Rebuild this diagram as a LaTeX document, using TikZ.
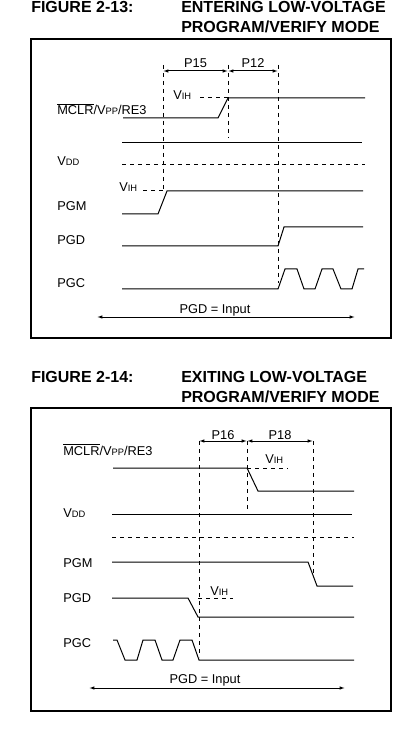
\documentclass[tikz,border=0pt]{standalone}
\usepackage{fontspec}
\setmainfont{Liberation Sans}
\usetikzlibrary{arrows.meta}

\tikzset{
  wave/.style={line width=0.75pt},
  guide/.style={line width=0.75pt, dash pattern=on 3pt off 3pt},
  span/.style={line width=0.75pt, {Latex[length=4pt,width=2.6pt]}-{Latex[length=4pt,width=2.6pt]}},
  sig/.style={anchor=base west, inner sep=0pt, font=\fontsize{9.6}{11}\selectfont},
  ttl/.style={anchor=base west, inner sep=0pt, align=left, font=\bfseries\fontsize{12}{15}\selectfont},
}
\newcommand{\lo}[1]{{\fontsize{7}{8}\selectfont #1}}

\begin{document}
\begin{tikzpicture}[x=0.75pt,y=-0.75pt]
\useasboundingbox (0,0) rectangle (412,737);
\node[ttl] (fig13) at (31,13) {FIGURE 2-13:};
\node[ttl] (ttl13) at (181,33) {ENTERING LOW-VOLTAGE\\PROGRAM/VERIFY MODE};
\draw[line width=0.9pt] (31,39) rectangle (391,338);
\coordinate (A) at (163,65);
\coordinate (B) at (228,65);
\coordinate (C) at (278,65);
\coordinate (A1) at (163,71);
\coordinate (B1) at (228,71);
\coordinate (C1) at (278,71);
\draw[guide] (A) -- (163,190);
\draw[guide] (B) -- (228,138);
\draw[guide] (C) -- (278,283);
\draw[span] (A1) -- (B1);
\draw[span] (B1) -- (C1);
\node[sig, anchor=base] (p15) at (195.5,68) {P15};
\node[sig, anchor=base] (p12) at (253,68) {P12};
\node[sig] (mclr13) at (57,115) {$\overline{\mbox{MCLR}}$/V\lo{PP}/RE3};
\node[sig] (vih13a) at (173,100) {V\lo{IH}};
\draw[guide] (200,98) -- (228,98);
\draw[wave] (123,118) -- (218,118) -- (228,98) -- (365,98);
\node[sig] (vdd13) at (57,166) {V\lo{DD}};
\draw[wave] (122,143) -- (362,143);
\draw[guide] (122,165) -- (365,165);
\node[sig] (vih13b) at (119,192) {V\lo{IH}};
\draw[guide] (143,191) -- (163,191);
\node[sig] (pgm13) at (57,211) {PGM};
\draw[wave] (122,214) -- (158,214) -- (167,191) -- (363,191);
\node[sig] (pgd13) at (57,245) {PGD};
\draw[wave] (122,246) -- (278,246) -- (284,227) -- (363,227);
\node[sig] (pgc13) at (57,287) {PGC};
\draw[wave] (122,289) -- (278,289) -- (285,269) -- (297,269) -- (304,289) -- (315,289)
  -- (322,269) -- (333,269) -- (341,289) -- (352,289) -- (358,269) -- (364,269);
\coordinate (L13) at (97,317);
\coordinate (R13) at (355,317);
\draw[span] (L13) -- (R13);
\node[sig, anchor=base] (in13) at (215,313) {PGD = Input};

\node[ttl] (fig14) at (31,382) {FIGURE 2-14:};
\node[ttl] (ttl14) at (181,402) {EXITING LOW-VOLTAGE\\PROGRAM/VERIFY MODE};
\draw[line width=0.9pt] (31,408) rectangle (391,711);
\coordinate (D) at (199,441);
\coordinate (E) at (247,441);
\coordinate (F) at (313,441);
\draw[guide] (D) -- (199,657);
\draw[guide] (E) -- (247,509);
\draw[guide] (F) -- (313,577);
\draw[span] (D) -- (E);
\draw[span] (E) -- (F);
\node[sig, anchor=base] (p16) at (223,439) {P16};
\node[sig, anchor=base] (p18) at (280,439) {P18};
\node[sig] (mclr14) at (63,455) {$\overline{\mbox{MCLR}}$/V\lo{PP}/RE3};
\node[sig] (vih14a) at (265,463) {V\lo{IH}};
\draw[guide] (247,468) -- (288,468);
\draw[wave] (113,468) -- (247,468) -- (258,491) -- (354,491);
\node[sig] (vdd14) at (63,517) {V\lo{DD}};
\draw[wave] (112,514) -- (352,514);
\draw[guide] (112,537) -- (354,537);
\node[sig] (pgm14) at (63,567) {PGM};
\draw[wave] (112,562) -- (308,562) -- (317,586) -- (353,586);
\node[sig] (vih14b) at (210,595) {V\lo{IH}};
\draw[guide] (198,598) -- (233,598);
\node[sig] (pgd14) at (63,602) {PGD};
\draw[wave] (112,598) -- (188,598) -- (198,617) -- (354,617);
\node[sig] (pgc14) at (63,647) {PGC};
\draw[wave] (113,640) -- (117,640) -- (125,660) -- (137,660) -- (143,640) -- (155,640)
  -- (162,660) -- (173,660) -- (180,640) -- (192,640) -- (199,660) -- (354,660);
\coordinate (L14) at (89,688);
\coordinate (R14) at (345,688);
\draw[span] (L14) -- (R14);
\node[sig, anchor=base] (in14) at (205,683) {PGD = Input};
\end{tikzpicture}
\end{document}
